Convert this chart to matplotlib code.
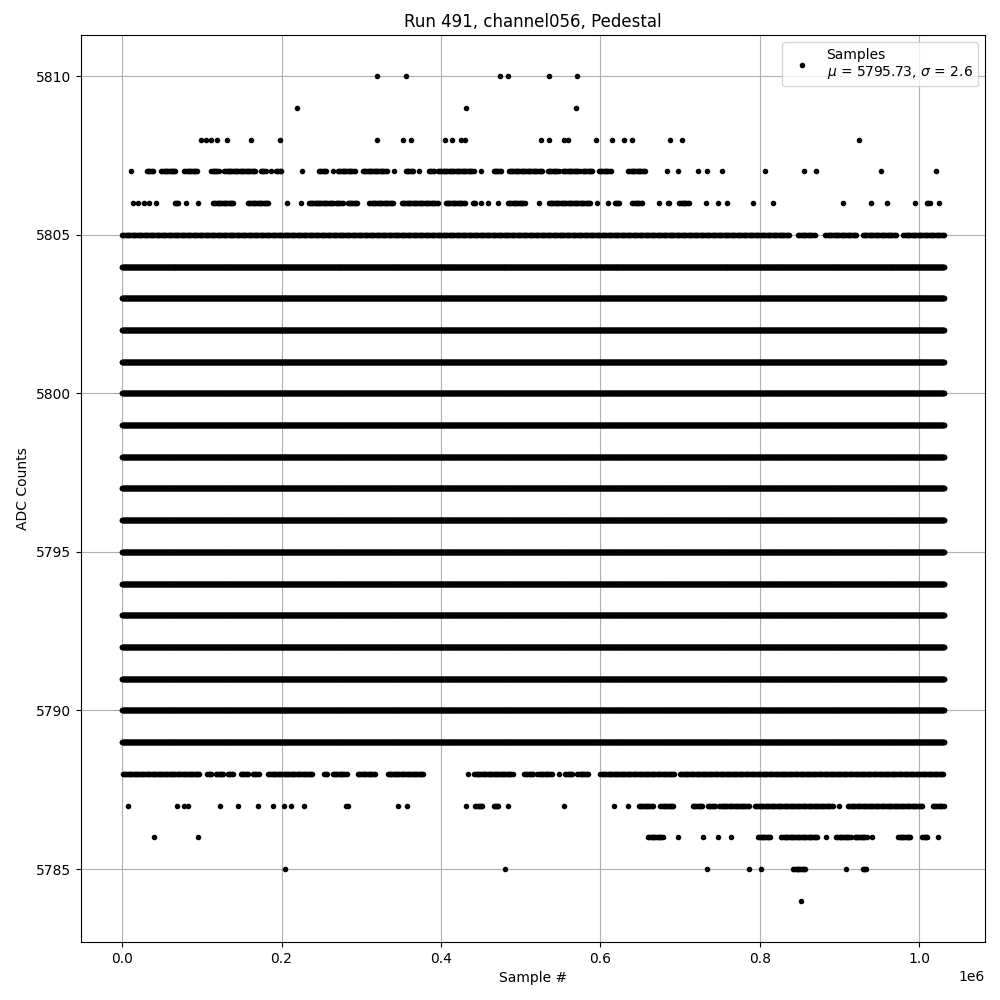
import numpy as np
import matplotlib.pyplot as plt

# run length, in thousands of samples
n_samples_k = 1031
mean_adc, sigma_adc = 5795.73, 2.6

# levels that are hit all through the run
dense_levels = list(range(5789, 5805))

# sparse levels: sample positions in 1e3 samples, (a, b) = run of hits
adc_5810 = [320, 356, 474, 484, 535, 571]
adc_5809 = [219, 431, 569]
adc_5808 = [99, 105, 112, 119, 132, 162, 198, 320, 352, 362, 405, 414, 425, 430,
            525, 535, 554, 560, 594, 615, 630, 640, 687, 702, 925]
adc_5807 = [11, (31, 39), (49, 68), (78, 95), (112, 122), (128, 168), (174, 180), 187,
            (193, 199), 226, (247, 256), 264, (271, 293), (302, 333), 341, (356, 365),
            372, (385, 391), (396, 441), 450, (466, 475), (485, 528), (534, 548),
            (553, 575), (578, 590), (598, 613), (635, 657), 684, 697, 722, 734, 752,
            806, 855, 870, 952, 1021]
adc_5806 = [14, 20, 28, 34, 43, (66, 71), 80, 95, (114, 140), (158, 184), 207, 224,
            (234, 246), (247, 266), (268, 278), (283, 296), (310, 340), (351, 397),
            (406, 431), (440, 444), 450, 459, 472, (484, 506), 523, (535, 588), 596,
            609, (618, 624), (640, 653), 673, (685, 687), (699, 711), 732, 747, 759,
            791, 817, 905, 939, 960, 995, (1010, 1014), 1025]
adc_5805 = [(0, 838), (848, 870), (882, 922), (929, 972), (980, 1031)]
adc_5788 = [(1, 98), (107, 112), (118, 127), (133, 140), (149, 158), (164, 172),
            (183, 239), (253, 258), (264, 283), (296, 318), (333, 378), 434, (442, 490),
            (504, 516), (521, 540), 548, (556, 566), (571, 585), (600, 694), (700, 1031)]
adc_5787 = [8, 69, 78, 83, 123, 145, 170, 189, 203, 212, 228, 281, 283, 346, 358, 432,
            (443, 453), (466, 472), 484, 555, 617, 635, (648, 667), (675, 692),
            (716, 728), (735, 744), (749, 787), (794, 892), 900, (911, 1005), (1017, 1031)]
adc_5786 = [40, 95, (660, 679), 697, 729, 747, 764, (798, 813), (827, 872), 883,
            (896, 914), (919, 934), 941, (974, 990), (1004, 1011), 1024]
adc_5785 = [204, 480, 734, 786, 802, (842, 857), 908, (929, 934)]
adc_5784 = [852]

sparse_rows = [(5810, adc_5810), (5809, adc_5809), (5808, adc_5808), (5807, adc_5807),
               (5806, adc_5806), (5805, adc_5805), (5788, adc_5788), (5787, adc_5787),
               (5786, adc_5786), (5785, adc_5785), (5784, adc_5784)]


def expand(hits, step):
    xs = []
    for h in hits:
        if isinstance(h, tuple):
            xs.append(np.arange(h[0], h[1] + 1e-9, step))
        else:
            xs.append(np.array([h], dtype=float))
    return np.concatenate(xs)


xs, ys = [], []
for lvl in dense_levels:
    x = np.arange(0, n_samples_k + 1e-9, 0.5)
    xs.append(x); ys.append(np.full_like(x, lvl))
for lvl, hits in sparse_rows:
    x = expand(hits, 1.5)
    xs.append(x); ys.append(np.full_like(x, lvl))
x_all = np.concatenate(xs) * 1000
y_all = np.concatenate(ys)

fig, ax = plt.subplots(figsize=(10, 10), dpi=100)
ax.plot(x_all, y_all, 'k.',
        label='Samples\n$\\mu$ = %.2f, $\\sigma$ = %.1f' % (mean_adc, sigma_adc))
ax.set_title('Run 491, channel056, Pedestal')
ax.set_xlabel('Sample #')
ax.set_ylabel('ADC Counts')
ax.grid(True)
ax.legend(loc='upper right')
plt.subplots_adjust(left=0.081, right=0.985, top=0.965, bottom=0.058)
plt.savefig('out.png')
